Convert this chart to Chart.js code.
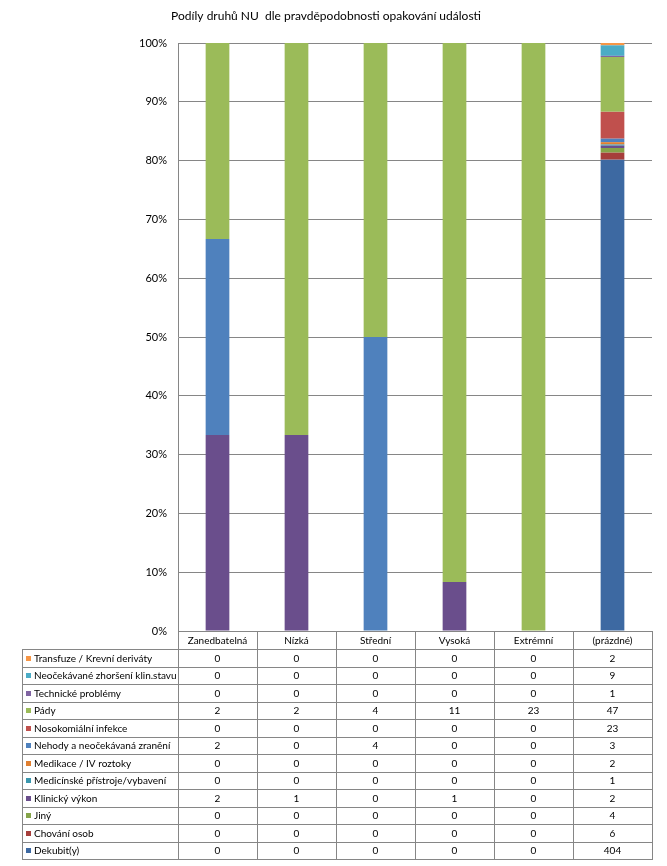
<!DOCTYPE html>
<html>
<head>
<meta charset="utf-8">
<script src="https://cdn.jsdelivr.net/npm/chart.js@4/dist/chart.umd.min.js"></script>
<style>
  body { margin: 0; background: #fff; }
  #wrap { width: 667px; height: 866px; }
</style>
</head>
<body>
<div id="wrap"><canvas id="myChart" width="667" height="866"></canvas></div>
<script>
let categories = ['Zanedbatelná', 'Nízká', 'Střední', 'Vysoká', 'Extrémní', '(prázdné)'];

// series, bottom of the stack first
let dekubit = [0, 0, 0, 0, 0, 404];
let chovani = [0, 0, 0, 0, 0, 6];
let jiny = [0, 0, 0, 0, 0, 4];
let klinicky = [2, 1, 0, 1, 0, 2];
let pristroje = [0, 0, 0, 0, 0, 1];
let medikace = [0, 0, 0, 0, 0, 2];
let nehody = [2, 0, 4, 0, 0, 3];
let nosokomialni = [0, 0, 0, 0, 0, 23];
let pady = [2, 2, 4, 11, 23, 47];
let technicke = [0, 0, 0, 0, 0, 1];
let zhorseni = [0, 0, 0, 0, 0, 9];
let transfuze = [0, 0, 0, 0, 0, 2];

let seriesNames = ['Dekubit(y)', 'Chování osob', 'Jiný', 'Klinický výkon', 'Medicínské přístroje/vybavení',
    'Medikace / IV roztoky', 'Nehody a neočekávaná zranění', 'Nosokomiální infekce', 'Pády',
    'Technické problémy', 'Neočekávané zhoršení klin.stavu', 'Transfuze / Krevní deriváty'];
let seriesValues = [dekubit, chovani, jiny, klinicky, pristroje, medikace, nehody, nosokomialni, pady,
    technicke, zhorseni, transfuze];
let colors = ['#3d69a2', '#a63e3b', '#85a449', '#6a4e8c', '#3a97ae', '#e07f30',
    '#4f81bd', '#c0504d', '#9bbb59', '#8064a2', '#4bacc6', '#f79646'];

let FONT = 'Lato, "Open Sans", sans-serif';
let LINE = '#868686';

// column totals, used to turn counts into shares (100% stacked)
let totals = categories.map((c, i) => seriesValues.reduce((s, arr) => s + arr[i], 0));

let datasets = seriesNames.map((name, k) => ({
    label: name,
    data: seriesValues[k].map((v, i) => v / totals[i] * 100),
    backgroundColor: colors[k],
    borderWidth: 0,
    barPercentage: 0.3,
    categoryPercentage: 1
}));

// data table under the plot, like Excel's
let dataTable = {
    id: 'dataTable',
    afterDraw(chart) {
        let ctx = chart.ctx;
        let area = chart.chartArea;
        let xs = chart.scales.x;
        let colW = (area.right - area.left) / categories.length;
        let tableLeft = 22;
        let headTop = area.bottom;
        let headBottom = area.bottom + 18;
        let rowH = 17.5;
        let nRows = seriesNames.length;
        let tableBottom = headBottom + rowH * nRows;

        ctx.save();
        ctx.strokeStyle = LINE;
        ctx.lineWidth = 1;
        ctx.beginPath();
        // horizontal lines
        ctx.moveTo(area.left, Math.round(headTop) + 0.5);
        ctx.lineTo(area.right, Math.round(headTop) + 0.5);
        for (let r = 0; r <= nRows; r++) {
            let y = Math.round(headBottom + r * rowH) + 0.5;
            ctx.moveTo(tableLeft, y);
            ctx.lineTo(area.right, y);
        }
        // vertical lines
        ctx.moveTo(tableLeft + 0.5, Math.round(headBottom));
        ctx.lineTo(tableLeft + 0.5, Math.round(tableBottom) + 1);
        for (let c = 0; c <= categories.length; c++) {
            let x = Math.round(area.left + c * colW) + 0.5;
            ctx.moveTo(x, Math.round(headTop));
            ctx.lineTo(x, Math.round(tableBottom) + 1);
        }
        ctx.stroke();

        ctx.fillStyle = '#000';
        ctx.font = '10px ' + FONT;
        ctx.textBaseline = 'middle';
        ctx.textAlign = 'center';
        categories.forEach((c, i) => {
            ctx.fillText(c, xs.getPixelForValue(i), (headTop + headBottom) / 2 + 1);
        });

        // rows listed top of the stack first
        for (let r = 0; r < nRows; r++) {
            let k = nRows - 1 - r;
            let yMid = headBottom + r * rowH + rowH / 2 + 1;
            ctx.fillStyle = colors[k];
            ctx.fillRect(tableLeft + 4, Math.round(yMid) - 3, 5, 5);
            ctx.fillStyle = '#000';
            ctx.textAlign = 'left';
            ctx.fillText(seriesNames[k], tableLeft + 12, yMid);
            ctx.textAlign = 'center';
            seriesValues[k].forEach((v, i) => {
                ctx.fillText(String(v), xs.getPixelForValue(i), yMid);
            });
        }
        ctx.restore();
    }
};

let config = {
    type: 'bar',
    data: {
        labels: categories,
        datasets: datasets
    },
    options: {
        responsive: false,
        animation: false,
        layout: {
            padding: { left: 0, right: 15, top: 0, bottom: 235 }
        },
        plugins: {
            legend: { display: false },
            tooltip: { enabled: false },
            title: {
                display: true,
                text: 'Podíly druhů NU  dle pravděpodobnosti opakování události',
                color: '#000',
                font: { family: FONT, size: 12, weight: 'normal' },
                padding: { top: 9, bottom: 19.6 }
            }
        },
        scales: {
            x: {
                display: false,
                stacked: true
            },
            y: {
                stacked: true,
                min: 0,
                max: 100,
                afterFit: scale => { scale.width = 178; },
                ticks: {
                    stepSize: 10,
                    color: '#000',
                    padding: 11,
                    font: { family: FONT, size: 11 },
                    callback: v => v + '%'
                },
                grid: {
                    color: LINE,
                    drawTicks: false
                },
                border: { color: LINE }
            }
        }
    },
    plugins: [dataTable]
};

let myChart = new Chart(document.getElementById('myChart'), config);
</script>
</body>
</html>
